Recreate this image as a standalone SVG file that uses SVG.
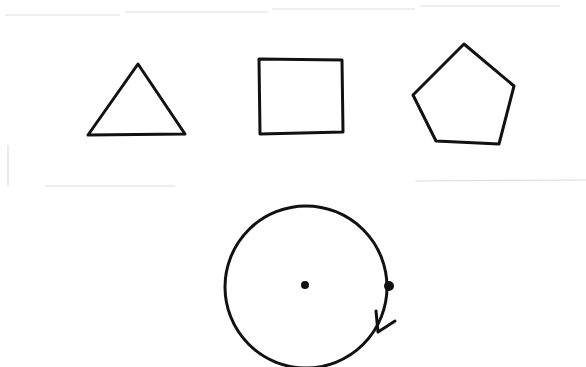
<svg xmlns="http://www.w3.org/2000/svg" width="586" height="367" viewBox="0 0 586 367">
<style>
.s{fill:none;stroke:#111;stroke-width:3;stroke-linejoin:round;stroke-linecap:round}
.f{fill:none;stroke:#ddd;stroke-width:1.2}
</style>
<rect width="586" height="367" fill="#fff"/>
<g id="faint">
<line class="f" x1="5" y1="15" x2="120" y2="15"/>
<line class="f" x1="125" y1="12" x2="268" y2="12"/>
<line class="f" x1="272" y1="9" x2="415" y2="9"/>
<line class="f" x1="420" y1="6" x2="560" y2="6"/>
<line class="f" x1="45" y1="186" x2="175" y2="186"/>
<line class="f" x1="415" y1="181" x2="586" y2="180"/>
<line class="f" x1="8" y1="145" x2="8" y2="186"/>
</g>
<g id="triangle"><polygon class="s" points="138,64 88,135 185,134"/></g>
<g id="square"><polygon class="s" points="259,59 342,60 343,132 260,134"/></g>
<g id="pentagon"><polygon class="s" points="464,44 514,86 499,144 436,141 413,95"/></g>
<g id="circle">
<circle class="s" cx="306" cy="287" r="81"/>
<circle cx="305" cy="285" r="4" fill="#111"/>
<circle cx="389" cy="286" r="5" fill="#111"/>
</g>
<g id="connectors">
<path class="s" d="M376,311 L378,332 L395,321"/>
</g>
</svg>
